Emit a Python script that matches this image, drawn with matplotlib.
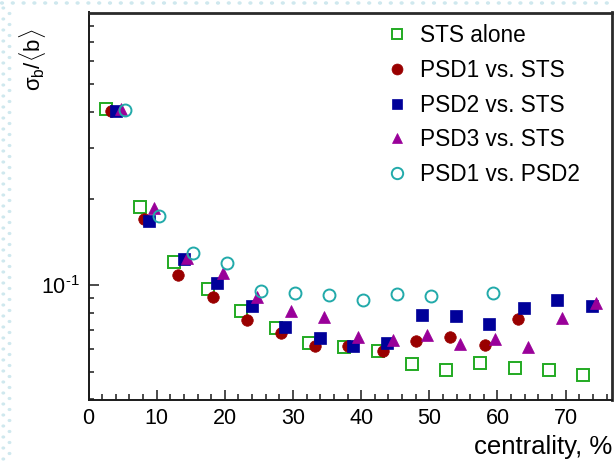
import numpy as np
import matplotlib
matplotlib.use("Agg")
import matplotlib.pyplot as plt
from matplotlib.patches import Circle
from matplotlib.ticker import FixedLocator, NullFormatter, LogLocator, MultipleLocator

plt.rcParams['font.family'] = ['Liberation Sans', 'DejaVu Sans']
plt.rcParams['mathtext.fontset'] = 'custom'
plt.rcParams['mathtext.rm'] = 'Liberation Sans'
plt.rcParams['mathtext.it'] = 'Liberation Sans'
plt.rcParams['mathtext.sf'] = 'Liberation Sans'

# centrality (%) and relative width of impact-parameter distribution
sts_x = [2.6, 7.6, 12.6, 17.5, 22.4, 27.5, 32.4, 37.5, 42.5, 47.4, 52.4, 57.4, 62.5, 67.5, 72.6]
sts_y = [0.410, 0.1875, 0.1206, 0.0968, 0.081, 0.0708, 0.063, 0.061, 0.0589, 0.0533,
         0.0508, 0.0536, 0.0513, 0.0506, 0.0486]

psd1_x = [3.25, 8.2, 13.2, 18.2, 23.2, 28.2, 33.2, 38.1, 43.2, 48.1, 53.1, 58.2, 63.0]
psd1_y = [0.402, 0.170, 0.1083, 0.0906, 0.0756, 0.068, 0.0614, 0.0613, 0.059, 0.0638,
          0.0657, 0.0618, 0.0761]

psd2_x = [4.03, 8.9, 13.96, 18.9, 24.0, 28.8, 33.9, 38.8, 43.8, 48.9, 53.9, 58.8, 63.9, 68.8, 73.8]
psd2_y = [0.404, 0.1675, 0.1232, 0.102, 0.0845, 0.0712, 0.0652, 0.0613, 0.063, 0.0786,
          0.078, 0.0731, 0.0834, 0.0887, 0.0847]

psd3_x = [4.72, 9.6, 14.5, 19.7, 24.7, 29.7, 34.6, 39.6, 44.6, 49.6, 54.5, 59.6, 64.5, 69.5, 74.5]
psd3_y = [0.41, 0.186, 0.124, 0.110, 0.0908, 0.0812, 0.0772, 0.066, 0.0643, 0.067,
          0.0623, 0.0647, 0.061, 0.0766, 0.0863]

psd12_x = [5.35, 10.34, 15.4, 20.3, 25.3, 30.3, 35.3, 40.3, 45.3, 50.2, 59.4]
psd12_y = [0.406, 0.174, 0.129, 0.119, 0.0953, 0.094, 0.092, 0.0887, 0.093, 0.0916, 0.094]

labels = ["STS alone", "PSD1 vs. STS", "PSD2 vs. STS", "PSD3 vs. STS", "PSD1 vs. PSD2"]

W, H = 616, 461
fig = plt.figure(figsize=(W / 100, H / 100), dpi=100)

# dotted background strips along the top and left edges
dot_col = '#cfe8ee'
for xx in np.arange(2, W, 10.8):
    fig.patches.append(Circle((xx / W, 1 - 3 / H), 1.4 / W,
                              transform=fig.transFigure, color=dot_col))
for i, yy in enumerate(np.arange(8, H, 5.5)):
    xx = 3.3 if i % 2 == 0 else 9.5
    fig.patches.append(Circle((xx / W, 1 - yy / H), 1.2 / W,
                              transform=fig.transFigure, color=dot_col))

ax = fig.add_axes([88.5 / W, 1 - 400 / H, (612 - 88.5) / W, (400 - 12.5) / H])
ax.set_yscale('log')
ax.set_xlim(0, 76.8)
ax.set_ylim(0.0398, 0.888)

ms = 8.3
ax.plot(sts_x, sts_y, ls='none', marker='s', ms=ms, mfc='none', mec='#22aa22', mew=1.4,
        label=labels[0])
ax.plot(psd1_x, psd1_y, ls='none', marker='o', ms=ms, mfc='#990000', mec='#990000', mew=0.5,
        label=labels[1])
ax.plot(psd2_x, psd2_y, ls='none', marker='s', ms=ms - 0.3, mfc='#000099', mec='#000099', mew=0.5,
        label=labels[2])
ax.plot(psd3_x, psd3_y, ls='none', marker='^', ms=ms, mfc='#990099', mec='#990099', mew=0.5,
        label=labels[3])
ax.plot(psd12_x, psd12_y, ls='none', marker='o', ms=ms + 0.3, mfc='none', mec='#22aaaa', mew=1.4,
        label=labels[4])

# axis frame
for side in ['left', 'bottom']:
    ax.spines[side].set_linewidth(1.4)
    ax.spines[side].set_color('#1a1a1a')
for side in ['top', 'right']:
    ax.spines[side].set_linewidth(2.0)
    ax.spines[side].set_color('#2a2a2a')

ax.xaxis.set_major_locator(MultipleLocator(10))
ax.xaxis.set_minor_locator(MultipleLocator(2))
ax.yaxis.set_major_locator(FixedLocator([0.1]))
ax.yaxis.set_minor_locator(LogLocator(base=10, subs=np.arange(2, 10)))
ax.yaxis.set_minor_formatter(NullFormatter())
ax.set_yticklabels([r'$10^{\text{-1}}$'])

ax.tick_params(axis='both', which='both', direction='in', top=False, right=False,
               width=1.1, color='#1a1a1a', labelsize=15.5)
ax.tick_params(axis='x', which='major', length=7.5, pad=6)
ax.tick_params(axis='x', which='minor', length=4)
ax.tick_params(axis='y', which='major', length=7.5, pad=6)
ax.tick_params(axis='y', which='minor', length=3.8)

fig.text(612 / W, 1 - 447 / H, "centrality, %", ha='right', va='center', fontsize=18.5)
fig.text(33 / W, 1 - 29 / H, r'$\sigma_{b}/\langle b\rangle$', rotation=90,
         ha='center', va='top', fontsize=16)

leg = ax.legend(loc='upper left', bbox_to_anchor=(386 / W, 1 - 24 / H),
                bbox_transform=fig.transFigure, frameon=False, fontsize=16.3,
                handlelength=1.0, handletextpad=0.52, labelspacing=0.52,
                borderpad=0, borderaxespad=0, markerscale=0.95)

fig.savefig("out.png", dpi=100)
